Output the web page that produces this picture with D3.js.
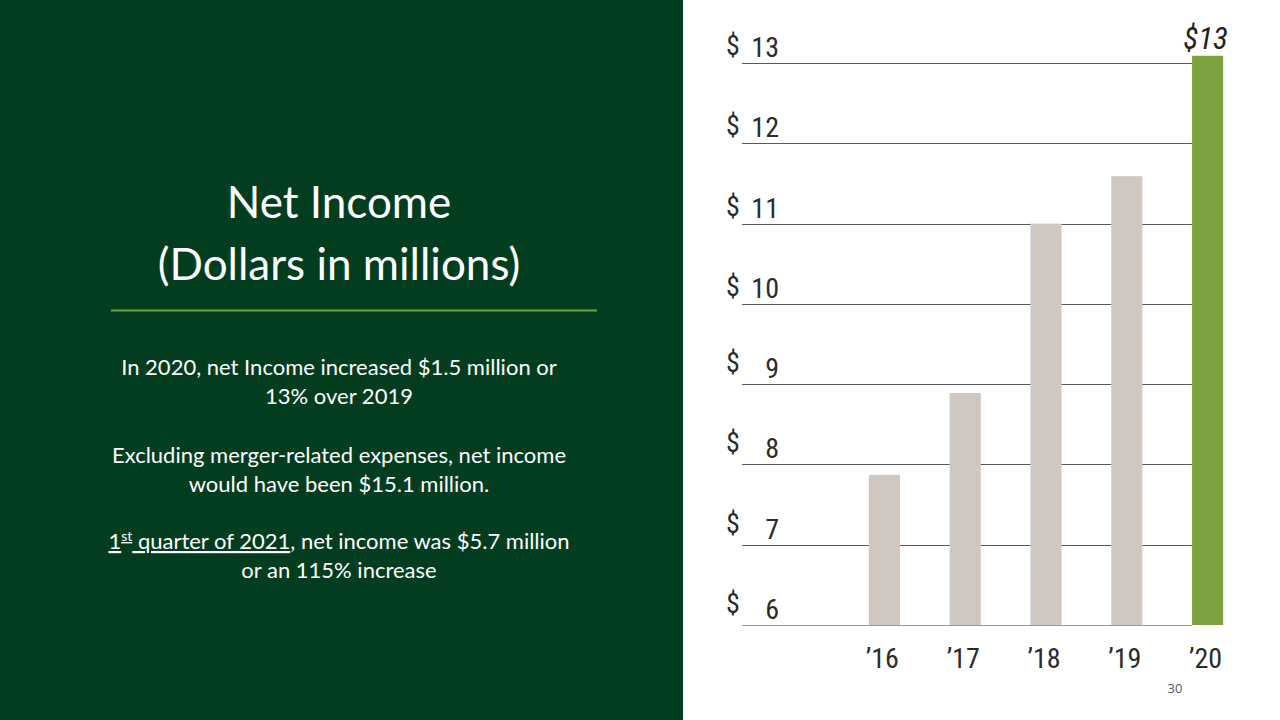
<!DOCTYPE html>
<html>
<head>
<meta charset="utf-8">
<script src="https://cdn.jsdelivr.net/npm/d3@7"></script>
<style>
  html, body { margin: 0; padding: 0; background: #ffffff; }
  svg { display: block; }
</style>
</head>
<body>
<svg id="chart" width="1280" height="720"></svg>
<script>
// ---- data ----
const years = ["’16", "’17", "’18", "’19", "’20"];
const netIncome = [7.87, 8.89, 11.0, 11.59, 13.09];
const yTicks = [6, 7, 8, 9, 10, 11, 12, 13];
const highlightLabel = "$13";
const titleLines = ["Net Income", "(Dollars in millions)"];
const pageNumber = "30";

const svg = d3.select("#chart");

// left panel
svg.append("rect").attr("x", 0).attr("y", 0).attr("width", 683).attr("height", 720).attr("fill", "#023d20");

const leftFont = "Lato, 'Open Sans', sans-serif";
svg.selectAll("text.title").data(titleLines).enter().append("text")
  .attr("class", "title")
  .attr("x", 339).attr("y", (d, i) => 218 + i * 62)
  .attr("text-anchor", "middle")
  .attr("fill", "#ffffff")
  .attr("font-family", leftFont)
  .attr("font-size", 44)
  .text(d => d);

svg.append("line").attr("x1", 111).attr("x2", 597).attr("y1", 310.5).attr("y2", 310.5)
  .attr("stroke", "#6aa83c").attr("stroke-width", 2);

const body = svg.append("g").attr("fill", "#ffffff").attr("font-family", leftFont).attr("font-size", 22).attr("text-anchor", "middle");
const simpleLines = [
  ["In 2020, net Income increased $1.5 million or", 375],
  ["13% over 2019", 404],
  ["Excluding merger-related expenses, net income", 463],
  ["would have been $15.1 million.", 492],
  ["or an 115% increase", 578]
];
simpleLines.forEach(([t, y]) => body.append("text").attr("x", 339).attr("y", y).text(t));
const l5 = body.append("text").attr("x", 339).attr("y", 549);
l5.append("tspan").attr("text-decoration", "underline").text("1");
l5.append("tspan").attr("text-decoration", "underline").attr("font-size", 14).attr("dy", -8).text("st");
l5.append("tspan").attr("text-decoration", "underline").attr("dy", 8).text(" quarter of 2021");
l5.append("tspan").text(", net income was $5.7 million");

// ---- chart ----
const y = d3.scaleLinear().domain([6, 13]).range([625, 63]);
const x = d3.scaleBand().domain(years).range([844, 1248]).paddingInner(0.615).paddingOuter(0.3075);

const gridLeft = 742;
const gridRight = x(years[years.length - 1]);

svg.append("g").selectAll("line").data(yTicks).enter().append("line")
  .attr("x1", gridLeft).attr("x2", gridRight)
  .attr("y1", d => Math.round(y(d)) + 0.5).attr("y2", d => Math.round(y(d)) + 0.5)
  .attr("stroke", d => d === 6 ? "#9a9a9a" : "#595959").attr("stroke-width", 1.2);

const axisFont = "'Liberation Sans Narrow', 'Arial Narrow', 'Roboto Condensed', sans-serif";
const yl = svg.append("g").attr("font-family", axisFont).attr("font-size", 28).attr("fill", "#2b2b2b");
yl.selectAll("text.d").data(yTicks).enter().append("text")
  .attr("class", "d").attr("x", 726).attr("y", d => y(d) - (d < 10 ? 12 : 8)).text("$");
yl.selectAll("text.n").data(yTicks).enter().append("text")
  .attr("class", "n").attr("x", 779).attr("text-anchor", "end").attr("y", d => y(d) - 6).text(d => d);

svg.append("g").selectAll("rect").data(netIncome).enter().append("rect")
  .attr("x", (d, i) => x(years[i]))
  .attr("width", x.bandwidth())
  .attr("y", d => y(d))
  .attr("height", d => y(6) - y(d))
  .attr("fill", (d, i) => i === netIncome.length - 1 ? "#7ba23f" : "#cfc7c0");

svg.append("g").selectAll("text").data(years).enter().append("text")
  .attr("x", d => x(d) + x.bandwidth() / 2 - 2)
  .attr("y", 668)
  .attr("text-anchor", "middle")
  .attr("font-family", axisFont).attr("font-size", 28).attr("fill", "#2b2b2b")
  .text(d => d);

svg.append("text")
  .attr("x", x(years[4]) + x.bandwidth() / 2 - 2)
  .attr("y", y(netIncome[4]) - 7)
  .attr("text-anchor", "middle")
  .attr("font-family", axisFont).attr("font-size", 31).attr("font-style", "italic")
  .attr("fill", "#222").text(highlightLabel);

svg.append("text").attr("x", 1175).attr("y", 693).attr("text-anchor", "middle")
  .attr("font-family", "'Open Sans', sans-serif").attr("font-size", 13).attr("fill", "#555").text(pageNumber);
</script>
</body>
</html>
